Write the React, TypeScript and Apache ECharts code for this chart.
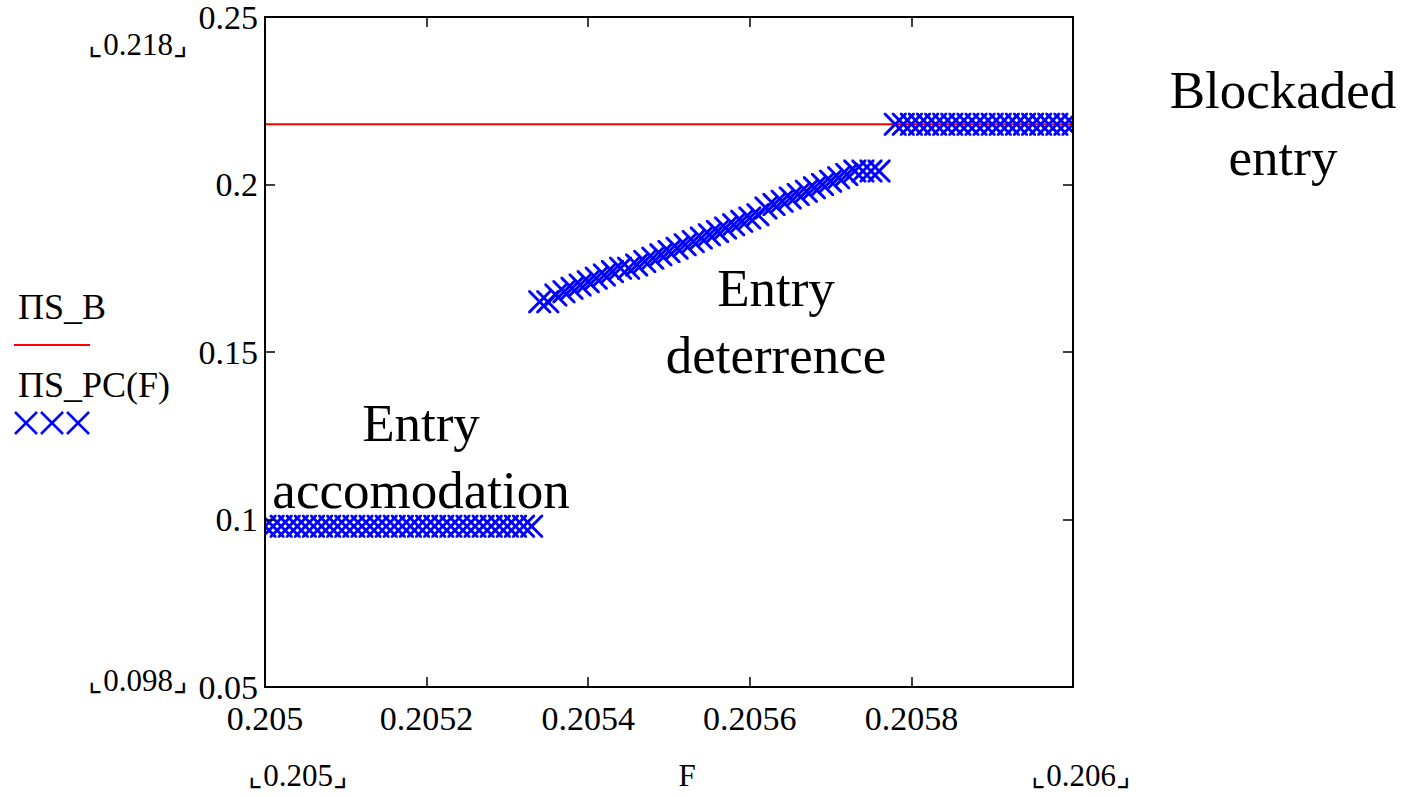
import React, { useEffect, useRef } from "react";
import * as echarts from "echarts";

// ---- data ----
const accomodationF: number[] = [
  0.205, 0.20501, 0.20502, 0.20503, 0.20504, 0.20505, 0.20506, 0.20507, 0.20508, 0.20509,
  0.2051, 0.20511, 0.20512, 0.20513, 0.20514, 0.20515, 0.20516, 0.20517, 0.20518, 0.20519,
  0.2052, 0.20521, 0.20522, 0.20523, 0.20524, 0.20525, 0.20526, 0.20527, 0.20528, 0.20529,
  0.2053, 0.20531, 0.20532, 0.20533,
];
const accomodationPC: number[] = accomodationF.map(() => 0.098);

const deterrenceF: number[] = [
  0.20534, 0.20535, 0.20536, 0.20537, 0.20538, 0.20539, 0.2054, 0.20541, 0.20542, 0.20543,
  0.20544, 0.20545, 0.20546, 0.20547, 0.20548, 0.20549, 0.2055, 0.20551, 0.20552, 0.20553,
  0.20554, 0.20555, 0.20556, 0.20557, 0.20558, 0.20559, 0.2056, 0.20561, 0.20562, 0.20563,
  0.20564, 0.20565, 0.20566, 0.20567, 0.20568, 0.20569, 0.2057, 0.20571, 0.20572, 0.20573,
  0.20574, 0.20575, 0.20576,
];
const deterrencePC: number[] = [
  0.165, 0.165, 0.167, 0.168, 0.169, 0.17, 0.171, 0.172, 0.173, 0.174,
  0.175, 0.175, 0.176, 0.177, 0.178, 0.179, 0.18, 0.181, 0.182, 0.183,
  0.184, 0.185, 0.186, 0.187, 0.188, 0.189, 0.19, 0.191, 0.193, 0.194,
  0.195, 0.196, 0.197, 0.198, 0.199, 0.2, 0.201, 0.202, 0.203, 0.204,
  0.204, 0.204, 0.204,
];

const blockadedF: number[] = [
  0.20578, 0.20579, 0.2058, 0.20581, 0.20582, 0.20583, 0.20584, 0.20585, 0.20586, 0.20587,
  0.20588, 0.20589, 0.2059, 0.20591, 0.20592, 0.20593, 0.20594, 0.20595, 0.20596, 0.20597,
  0.20598, 0.20599, 0.206,
];
const blockadedPC: number[] = blockadedF.map(() => 0.218);

const sbF: number[] = [0.205, 0.206];
const sbValues: number[] = [0.218, 0.218];

const xTicks = { min: 0.205, max: 0.206, interval: 0.0002 };
const yTicks = { min: 0.05, max: 0.25, interval: 0.05 };

const annotations = [
  { text: "Entry\naccomodation", x: 421, y: 456 },
  { text: "Entry\ndeterrence", x: 776, y: 321 },
  { text: "Blockaded\nentry", x: 1283, y: 123 },
];

const FONT = "'Liberation Serif', 'Times New Roman', serif";
const BLUE = "#0000ff";
const RED = "#ff0000";
const XPATH =
  "path://M0,0 L1.8,0 L10,8.2 L18.2,0 L20,0 L20,1.8 L11.8,10 L20,18.2 L20,20 L18.2,20 L10,11.8 L1.8,20 L0,20 L0,18.2 L8.2,10 L0,1.8 Z";

function fmt(v: number): string {
  if (v > 0.20599 && v < 0.2061) return "";
  return String(Number(v.toFixed(6)));
}

function legendCross(cx: number, cy: number) {
  const h = 11;
  return [
    { type: "line", z: 10, shape: { x1: cx - h, y1: cy - h, x2: cx + h, y2: cy + h }, style: { stroke: BLUE, lineWidth: 2.5 } },
    { type: "line", z: 10, shape: { x1: cx - h, y1: cy + h, x2: cx + h, y2: cy - h }, style: { stroke: BLUE, lineWidth: 2.5 } },
  ];
}

export default function App() {
  const ref = useRef<HTMLDivElement>(null);
  useEffect(() => {
    if (!ref.current) return;
    const chart = echarts.init(ref.current, undefined, { renderer: "svg" });
    const pts = (xs: number[], ys: number[]) => xs.map((x, i) => [x, ys[i]]);
    const txt = (text: string, x: number, y: number, size: number, align = "center") => ({
      type: "text",
      x,
      y,
      z: 10,
      style: { text, font: `${size}px ${FONT}`, fill: "#000", align, verticalAlign: "middle" },
    });
    const axisCommon = {
      type: "value",
      z: 10,
      axisLine: { show: true, onZero: false, lineStyle: { color: "#000", width: 2 } },
      axisTick: { show: true, inside: true, length: 10, lineStyle: { color: "#000", width: 1.5 } },
      splitLine: { show: false },
    };
    chart.setOption({
      animation: false,
      backgroundColor: "#fff",
      grid: { left: 265, top: 17, right: 341, bottom: 110 },
      xAxis: [
        {
          ...axisCommon,
          min: xTicks.min,
          max: xTicks.max,
          interval: xTicks.interval,
          axisLabel: { formatter: fmt, color: "#000", fontFamily: FONT, fontSize: 34, margin: 14 },
        },
        {
          ...axisCommon,
          position: "top",
          min: xTicks.min,
          max: xTicks.max,
          interval: xTicks.interval,
          axisLabel: { show: false },
        },
      ],
      yAxis: [
        {
          ...axisCommon,
          min: yTicks.min,
          max: yTicks.max,
          interval: yTicks.interval,
          axisLabel: {
            formatter: (v: number) => String(Number(v.toFixed(4))),
            color: "#000",
            fontFamily: FONT,
            fontSize: 34,
            margin: 7,
          },
        },
        {
          ...axisCommon,
          position: "right",
          min: yTicks.min,
          max: yTicks.max,
          interval: yTicks.interval,
          axisLabel: { show: false },
        },
      ],
      series: [
        {
          name: "ΠS_B",
          type: "line",
          data: pts(sbF, sbValues),
          showSymbol: false,
          lineStyle: { color: RED, width: 2 },
          z: 2,
        },
        ...[
          [accomodationF, accomodationPC],
          [deterrenceF, deterrencePC],
          [blockadedF, blockadedPC],
        ].map(([xs, ys]) => ({
          name: "ΠS_PC(F)",
          type: "scatter",
          data: pts(xs, ys),
          symbol: XPATH,
          symbolSize: 23,
          itemStyle: { color: BLUE, opacity: 1 },
          clip: true,
          z: 3,
        })),
      ],
      graphic: [
        // white masks so markers do not spill past the plot frame
        { type: "rect", z: 5, shape: { x: 250, y: 505, width: 15, height: 40 }, style: { fill: "#fff" } },
        { type: "rect", z: 5, shape: { x: 1074, y: 105, width: 16, height: 40 }, style: { fill: "#fff" } },
        txt("ΠS_B", 18, 307, 36, "left"),
        { type: "line", z: 10, shape: { x1: 14, y1: 345, x2: 90, y2: 345 }, style: { stroke: RED, lineWidth: 2 } },
        txt("ΠS_PC(F)", 18, 385, 36, "left"),
        ...legendCross(26, 423),
        ...legendCross(52, 423),
        ...legendCross(78, 423),
        txt("⌞0.218⌟", 138, 44, 31),
        txt("⌞0.098⌟", 138, 680, 31),
        txt("⌞0.205⌟", 298, 775, 31),
        txt("F", 687, 775, 31),
        txt("⌞0.206⌟", 1081, 775, 31),
        ...annotations.map((a) => ({
          type: "text",
          x: a.x,
          y: a.y,
          z: 10,
          style: {
            text: a.text,
            font: `53px ${FONT}`,
            fill: "#000",
            align: "center",
            verticalAlign: "middle",
            lineHeight: 67,
          },
        })),
      ],
    });
    return () => chart.dispose();
  }, []);
  return <div ref={ref} style={{ position: "fixed", left: 0, top: 0, width: 1414, height: 797 }} />;
}
